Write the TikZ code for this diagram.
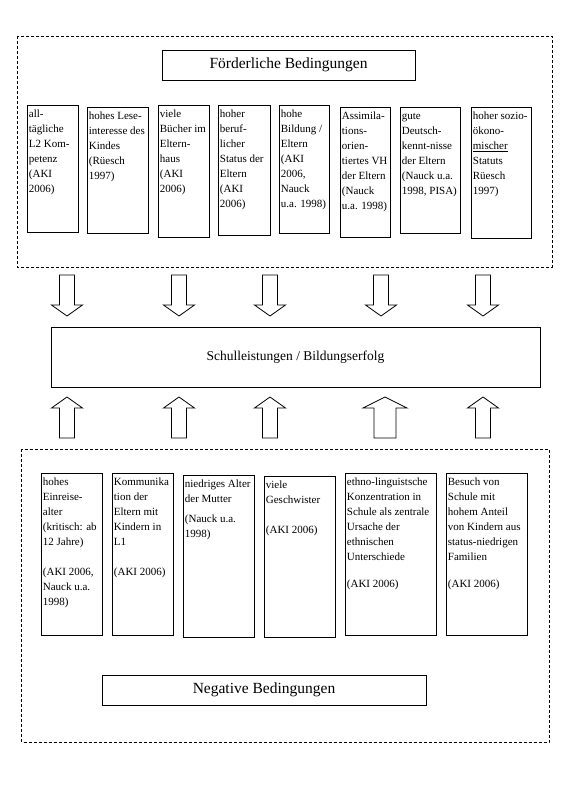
\documentclass[tikz,border=0pt]{standalone}
\usepackage{fontspec}
\setmainfont{Liberation Serif}
\usepackage{tikz}
\usetikzlibrary{positioning}

\newcommand{\cell}[3]{\parbox[t][#2pt][t]{#1pt}{\raggedright\strut#3}}

\tikzset{
  condbox/.style={draw, line width=0.8pt, anchor=north west, inner xsep=1.5pt, inner ysep=1.5pt,
    font=\fontsize{11}{15}\selectfont},
  headbox/.style={draw, line width=0.8pt, inner sep=0pt},
  condframe/.style={draw, line width=0.8pt, dash pattern=on 3pt off 2pt},
  blockarrow/.style={draw, line width=0.8pt, fill=white, line join=miter}
}

\begin{document}
\begin{tikzpicture}[x=1pt, y=-1pt]
  \useasboundingbox (0,0) rectangle (567,786);

  % TOP: foerderliche Bedingungen
  \draw[condframe] (17,36) rectangle (552,267);
  \node[headbox, minimum width=253pt, minimum height=30pt, font=\fontsize{15.5}{18}\selectfont]
    (foerd) at (288.5,65) {Förderliche Bedingungen};

  \node[condbox] (f1) at (27,105)  {\cell{48}{124}{all-\\tägliche\\L2 Kom-\\petenz\\(AKI\\2006)}};
  \node[condbox] (f2) at (87,107)  {\cell{58}{123}{hohes Lese-\\interesse des\\Kindes\\(Rüesch\\1997)}};
  \node[condbox] (f3) at (158,105) {\cell{48}{129}{viele\\Bücher im\\Eltern-\\haus\\(AKI\\2006)}};
  \node[condbox] (f4) at (218,105) {\cell{49}{127}{hoher\\beruf-\\licher\\Status der\\Eltern\\(AKI\\2006)}};
  \node[condbox] (f5) at (279,105) {\cell{47}{125}{hohe\\Bildung /\\Eltern\\(AKI\\2006,\\Nauck\\u.a. 1998)}};
  \node[condbox] (f6) at (340,107) {\cell{47}{127}{Assimila-\\tions-\\orien-\\tiertes VH\\der Eltern\\(Nauck\\u.a. 1998)}};
  \node[condbox] (f7) at (400,107) {\cell{57}{123}{gute\\Deutsch-\\kennt-nisse\\der Eltern\\(Nauck u.a.\\1998, PISA)}};
  \node[condbox] (f8) at (471,107) {\cell{57}{128}{hoher sozio-\\ökono-\\\underline{mischer}\\Statuts\\Rüesch\\1997)}};

  % arrows down into the result
  \foreach \cx in {67,179,270,381,483}
    \draw[blockarrow] (\cx-7.5,275) -- (\cx+7.5,275) -- (\cx+7.5,305) -- (\cx+15.5,305)
      -- (\cx,316) -- (\cx-15.5,305) -- (\cx-7.5,305) -- cycle;

  % MIDDLE: result
  \node[headbox, minimum width=489pt, minimum height=60pt, font=\fontsize{13.5}{16}\selectfont]
    (erfolg) at (295.5,357) {Schulleistungen / Bildungserfolg};

  % arrows up into the result
  \foreach \cx/\sw/\hw in {67/7.5/15.5, 179/7.5/15.5, 270/7.5/15.5, 385/11/22, 483/7.5/15.5}
    \draw[blockarrow] (\cx-\sw,438) -- (\cx+\sw,438) -- (\cx+\sw,408) -- (\cx+\hw,408)
      -- (\cx,397) -- (\cx-\hw,408) -- (\cx-\sw,408) -- cycle;

  % BOTTOM: negative Bedingungen
  \draw[condframe] (21.5,449) rectangle (549,742);

  \node[condbox] (n1) at (41,473)  {\cell{58}{159}{hohes\\Einreise-\\alter\\(kritisch: ab\\12 Jahre)\\[15pt](AKI 2006,\\Nauck u.a.\\1998)}};
  \node[condbox] (n2) at (112,473) {\cell{58}{159}{Kommunika\\tion der\\Eltern mit\\Kindern in\\L1\\[15pt](AKI 2006)}};
  \node[condbox] (n3) at (183,475) {\cell{68}{159}{niedriges Alter\\der Mutter\\[5pt](Nauck u.a.\\1998)}};
  \node[condbox] (n4) at (264,476) {\cell{68}{158}{viele\\Geschwister\\[15pt](AKI 2006)}};
  \node[condbox] (n5) at (345,473) {\cell{88}{159}{ethno-linguistsche\\Konzentration in\\Schule als zentrale\\Ursache der\\ethnischen\\Unterschiede\\[12pt](AKI 2006)}};
  \node[condbox] (n6) at (446,473) {\cell{78}{159}{Besuch von\\Schule mit\\hohem Anteil\\von Kindern aus\\status-niedrigen\\Familien\\[12pt](AKI 2006)}};

  \node[headbox, minimum width=324pt, minimum height=30pt, font=\fontsize{15.5}{18}\selectfont]
    (neg) at (264,690) {Negative Bedingungen};
\end{tikzpicture}
\end{document}
